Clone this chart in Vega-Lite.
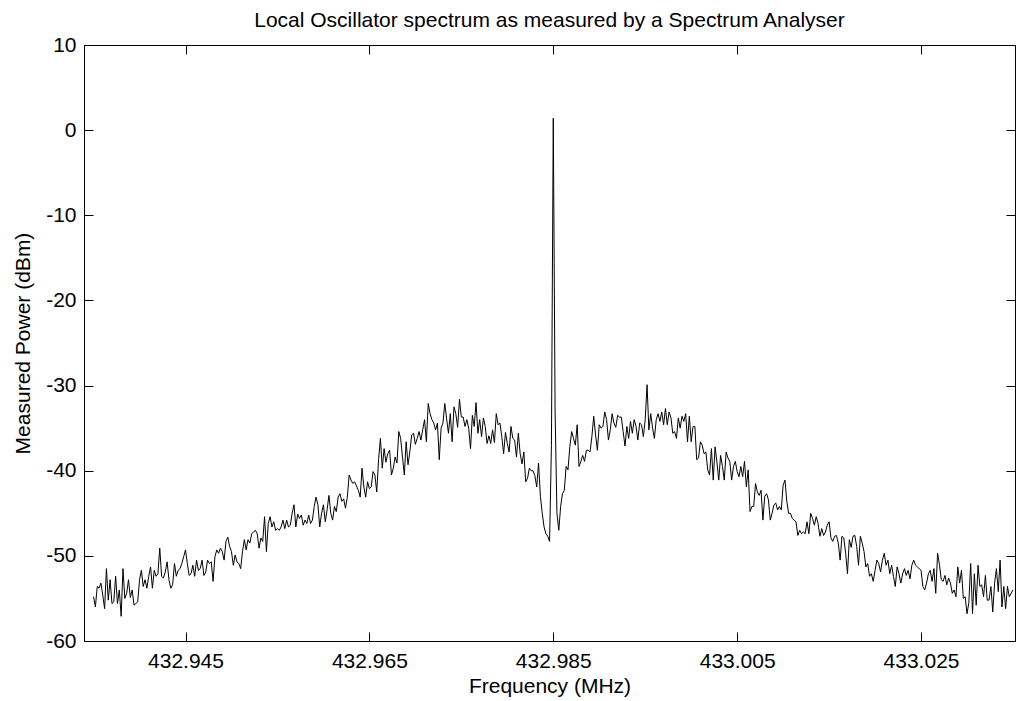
{
"$schema": "https://vega.github.io/schema/vega-lite/v6.json",
"width": 931, "height": 596,
"autosize": {"type": "none"},
"padding": {"left": 84, "top": 45, "right": 1, "bottom": 60},
"background": "white",
"title": {"text": "Local Oscillator spectrum as measured by a Spectrum Analyser", "font": "Liberation Sans", "fontSize": 21, "fontWeight": "normal", "color": "black", "anchor": "middle", "offset": 3},
"config": {"view": {"stroke": "black", "strokeWidth": 1}},
"data": {"values": [
{"f":432.935,"p":-54.8},{"f":432.9352,"p":-56.0},{"f":432.9354,"p":-53.6},{"f":432.9356,"p":-53.8},{"f":432.9358,"p":-53.2},{"f":432.936,"p":-54.6},{"f":432.9362,"p":-56.2},{"f":432.9364,"p":-51.5},{"f":432.9366,"p":-55.2},{"f":432.9368,"p":-52.8},
{"f":432.937,"p":-55.6},{"f":432.9372,"p":-55.4},{"f":432.9374,"p":-52.4},{"f":432.9376,"p":-55.6},{"f":432.9378,"p":-54.0},{"f":432.938,"p":-57.1},{"f":432.9382,"p":-51.5},{"f":432.9384,"p":-55.0},{"f":432.9386,"p":-54.4},{"f":432.9388,"p":-52.8},
{"f":432.939,"p":-54.9},{"f":432.9392,"p":-54.0},{"f":432.9394,"p":-55.8},{"f":432.9396,"p":-55.6},{"f":432.9398,"p":-55.4},{"f":432.94,"p":-52.8},{"f":432.9402,"p":-51.7},{"f":432.9404,"p":-53.6},{"f":432.9406,"p":-52.8},{"f":432.9408,"p":-53.8},
{"f":432.941,"p":-52.4},{"f":432.9412,"p":-51.3},{"f":432.9414,"p":-53.8},{"f":432.9416,"p":-51.7},{"f":432.9418,"p":-52.4},{"f":432.942,"p":-52.1},{"f":432.9422,"p":-49.1},{"f":432.9424,"p":-52.4},{"f":432.9426,"p":-52.6},{"f":432.9428,"p":-51.9},
{"f":432.943,"p":-50.7},{"f":432.9432,"p":-52.8},{"f":432.9434,"p":-53.8},{"f":432.9436,"p":-53.4},{"f":432.9438,"p":-50.9},{"f":432.944,"p":-52.4},{"f":432.9442,"p":-51.7},{"f":432.9444,"p":-51.5},{"f":432.9446,"p":-50.9},{"f":432.9448,"p":-50.1},
{"f":432.945,"p":-49.3},{"f":432.9452,"p":-50.9},{"f":432.9454,"p":-52.3},{"f":432.9456,"p":-52.1},{"f":432.9458,"p":-51.1},{"f":432.946,"p":-52.4},{"f":432.9462,"p":-50.5},{"f":432.9464,"p":-51.7},{"f":432.9466,"p":-51.5},{"f":432.9468,"p":-50.5},
{"f":432.947,"p":-52.3},{"f":432.9472,"p":-51.9},{"f":432.9474,"p":-50.5},{"f":432.9476,"p":-50.9},{"f":432.9478,"p":-50.7},{"f":432.948,"p":-53.0},{"f":432.9482,"p":-50.1},{"f":432.9484,"p":-49.3},{"f":432.9486,"p":-49.7},{"f":432.9488,"p":-49.1},
{"f":432.949,"p":-49.5},{"f":432.9492,"p":-50.5},{"f":432.9494,"p":-48.3},{"f":432.9496,"p":-47.8},{"f":432.9498,"p":-48.9},{"f":432.95,"p":-49.5},{"f":432.9502,"p":-51.1},{"f":432.9504,"p":-49.9},{"f":432.9506,"p":-50.7},{"f":432.9508,"p":-50.9},
{"f":432.951,"p":-51.5},{"f":432.9512,"p":-49.5},{"f":432.9514,"p":-48.1},{"f":432.9516,"p":-49.3},{"f":432.9518,"p":-48.1},{"f":432.952,"p":-48.5},{"f":432.9522,"p":-47.4},{"f":432.9524,"p":-47.2},{"f":432.9526,"p":-47.0},{"f":432.9528,"p":-47.4},
{"f":432.953,"p":-49.1},{"f":432.9532,"p":-47.9},{"f":432.9534,"p":-48.3},{"f":432.9536,"p":-45.4},{"f":432.9538,"p":-49.5},{"f":432.954,"p":-46.2},{"f":432.9542,"p":-45.4},{"f":432.9544,"p":-46.6},{"f":432.9546,"p":-46.0},{"f":432.9548,"p":-47.0},
{"f":432.955,"p":-46.8},{"f":432.9552,"p":-47.0},{"f":432.9554,"p":-46.6},{"f":432.9556,"p":-45.8},{"f":432.9558,"p":-46.8},{"f":432.956,"p":-45.8},{"f":432.9562,"p":-46.6},{"f":432.9564,"p":-46.4},{"f":432.9566,"p":-45.0},{"f":432.9568,"p":-44.0},
{"f":432.957,"p":-46.6},{"f":432.9572,"p":-45.1},{"f":432.9574,"p":-45.6},{"f":432.9576,"p":-45.2},{"f":432.9578,"p":-46.4},{"f":432.958,"p":-45.8},{"f":432.9582,"p":-46.2},{"f":432.9584,"p":-45.2},{"f":432.9586,"p":-46.2},{"f":432.9588,"p":-45.8},
{"f":432.959,"p":-44.2},{"f":432.9592,"p":-43.1},{"f":432.9594,"p":-44.0},{"f":432.9596,"p":-46.6},{"f":432.9598,"p":-45.0},{"f":432.96,"p":-44.0},{"f":432.9602,"p":-46.0},{"f":432.9604,"p":-44.6},{"f":432.9606,"p":-42.9},{"f":432.9608,"p":-45.0},
{"f":432.961,"p":-45.8},{"f":432.9612,"p":-44.2},{"f":432.9614,"p":-44.8},{"f":432.9616,"p":-43.1},{"f":432.9618,"p":-42.7},{"f":432.962,"p":-43.6},{"f":432.9622,"p":-43.3},{"f":432.9624,"p":-44.4},{"f":432.9626,"p":-43.1},{"f":432.9628,"p":-40.5},
{"f":432.963,"p":-41.1},{"f":432.9632,"p":-41.5},{"f":432.9634,"p":-41.3},{"f":432.9636,"p":-41.8},{"f":432.9638,"p":-42.3},{"f":432.964,"p":-43.1},{"f":432.9642,"p":-39.7},{"f":432.9644,"p":-41.9},{"f":432.9646,"p":-43.1},{"f":432.9648,"p":-41.3},
{"f":432.965,"p":-42.1},{"f":432.9652,"p":-41.9},{"f":432.9654,"p":-40.1},{"f":432.9656,"p":-40.5},{"f":432.9658,"p":-42.5},{"f":432.966,"p":-38.7},{"f":432.9662,"p":-36.2},{"f":432.9664,"p":-39.7},{"f":432.9666,"p":-37.4},{"f":432.9668,"p":-39.0},
{"f":432.967,"p":-38.0},{"f":432.9672,"p":-37.6},{"f":432.9674,"p":-40.5},{"f":432.9676,"p":-39.7},{"f":432.9678,"p":-38.4},{"f":432.968,"p":-39.1},{"f":432.9682,"p":-35.4},{"f":432.9684,"p":-36.2},{"f":432.9686,"p":-38.4},{"f":432.9688,"p":-40.5},
{"f":432.969,"p":-36.6},{"f":432.9692,"p":-39.3},{"f":432.9694,"p":-37.8},{"f":432.9696,"p":-35.8},{"f":432.9698,"p":-35.6},{"f":432.97,"p":-36.9},{"f":432.9702,"p":-36.2},{"f":432.9704,"p":-35.4},{"f":432.9706,"p":-36.4},{"f":432.9708,"p":-35.2},
{"f":432.971,"p":-34.0},{"f":432.9712,"p":-36.6},{"f":432.9714,"p":-32.1},{"f":432.9716,"p":-33.3},{"f":432.9718,"p":-34.0},{"f":432.972,"p":-34.4},{"f":432.9722,"p":-35.2},{"f":432.9724,"p":-34.4},{"f":432.9726,"p":-38.7},{"f":432.9728,"p":-35.0},
{"f":432.973,"p":-34.4},{"f":432.9732,"p":-32.1},{"f":432.9734,"p":-33.9},{"f":432.9736,"p":-35.6},{"f":432.9738,"p":-33.3},{"f":432.974,"p":-36.6},{"f":432.9742,"p":-32.5},{"f":432.9744,"p":-33.3},{"f":432.9746,"p":-34.9},{"f":432.9748,"p":-31.6},
{"f":432.975,"p":-33.7},{"f":432.9752,"p":-33.7},{"f":432.9754,"p":-34.8},{"f":432.9756,"p":-34.0},{"f":432.9758,"p":-35.0},{"f":432.976,"p":-37.4},{"f":432.9762,"p":-33.5},{"f":432.9764,"p":-34.8},{"f":432.9766,"p":-32.0},{"f":432.9768,"p":-35.6},
{"f":432.977,"p":-34.0},{"f":432.9772,"p":-36.0},{"f":432.9774,"p":-33.8},{"f":432.9776,"p":-34.8},{"f":432.9778,"p":-36.8},{"f":432.978,"p":-35.9},{"f":432.9782,"p":-36.8},{"f":432.9784,"p":-35.2},{"f":432.9786,"p":-36.7},{"f":432.9788,"p":-33.3},
{"f":432.979,"p":-34.6},{"f":432.9792,"p":-34.4},{"f":432.9794,"p":-36.0},{"f":432.9796,"p":-38.0},{"f":432.9798,"p":-35.5},{"f":432.98,"p":-36.8},{"f":432.9802,"p":-37.8},{"f":432.9804,"p":-34.8},{"f":432.9806,"p":-36.2},{"f":432.9808,"p":-36.4},
{"f":432.981,"p":-38.4},{"f":432.9812,"p":-35.6},{"f":432.9814,"p":-38.0},{"f":432.9816,"p":-39.2},{"f":432.9818,"p":-37.8},{"f":432.982,"p":-41.3},{"f":432.9822,"p":-40.9},{"f":432.9824,"p":-39.7},{"f":432.9826,"p":-40.0},{"f":432.9828,"p":-40.0},
{"f":432.983,"p":-40.6},{"f":432.9832,"p":-41.9},{"f":432.9834,"p":-39.1},{"f":432.9836,"p":-43.0},{"f":432.9838,"p":-45.0},{"f":432.984,"p":-46.6},{"f":432.9842,"p":-47.4},{"f":432.9844,"p":-47.7},{"f":432.9846,"p":-48.3},{"f":432.9848,"p":-37.0},
{"f":432.985,"p":1.4},{"f":432.9852,"p":-33.0},{"f":432.9854,"p":-45.0},{"f":432.9856,"p":-47.0},{"f":432.9858,"p":-44.2},{"f":432.986,"p":-42.7},{"f":432.9862,"p":-42.3},{"f":432.9864,"p":-39.5},{"f":432.9866,"p":-39.9},{"f":432.9868,"p":-37.2},
{"f":432.987,"p":-35.4},{"f":432.9872,"p":-36.2},{"f":432.9874,"p":-37.0},{"f":432.9876,"p":-34.6},{"f":432.9878,"p":-39.5},{"f":432.988,"p":-38.9},{"f":432.9882,"p":-38.2},{"f":432.9884,"p":-38.9},{"f":432.9886,"p":-37.6},{"f":432.9888,"p":-37.6},
{"f":432.989,"p":-37.8},{"f":432.9892,"p":-36.0},{"f":432.9894,"p":-33.6},{"f":432.9896,"p":-35.8},{"f":432.9898,"p":-37.6},{"f":432.99,"p":-34.6},{"f":432.9902,"p":-35.0},{"f":432.9904,"p":-34.8},{"f":432.9906,"p":-33.1},{"f":432.9908,"p":-34.0},
{"f":432.991,"p":-36.4},{"f":432.9912,"p":-35.2},{"f":432.9914,"p":-33.3},{"f":432.9916,"p":-34.4},{"f":432.9918,"p":-34.9},{"f":432.992,"p":-33.5},{"f":432.9922,"p":-33.7},{"f":432.9924,"p":-33.7},{"f":432.9926,"p":-35.4},{"f":432.9928,"p":-37.1},
{"f":432.993,"p":-34.8},{"f":432.9932,"p":-36.2},{"f":432.9934,"p":-34.2},{"f":432.9936,"p":-35.6},{"f":432.9938,"p":-34.0},{"f":432.994,"p":-34.8},{"f":432.9942,"p":-36.4},{"f":432.9944,"p":-34.4},{"f":432.9946,"p":-34.6},{"f":432.9948,"p":-36.0},
{"f":432.995,"p":-34.0},{"f":432.9952,"p":-29.9},{"f":432.9954,"p":-35.2},{"f":432.9956,"p":-33.3},{"f":432.9958,"p":-35.0},{"f":432.996,"p":-36.2},{"f":432.9962,"p":-34.0},{"f":432.9964,"p":-33.3},{"f":432.9966,"p":-34.2},{"f":432.9968,"p":-33.1},
{"f":432.997,"p":-34.6},{"f":432.9972,"p":-32.7},{"f":432.9974,"p":-34.6},{"f":432.9976,"p":-33.1},{"f":432.9978,"p":-33.8},{"f":432.998,"p":-35.6},{"f":432.9982,"p":-35.4},{"f":432.9984,"p":-36.2},{"f":432.9986,"p":-33.8},{"f":432.9988,"p":-35.0},
{"f":432.999,"p":-33.6},{"f":432.9992,"p":-34.2},{"f":432.9994,"p":-33.3},{"f":432.9996,"p":-36.6},{"f":432.9998,"p":-33.6},{"f":433.0,"p":-36.6},{"f":433.0002,"p":-34.8},{"f":433.0004,"p":-34.8},{"f":433.0006,"p":-38.7},{"f":433.0008,"p":-38.5},
{"f":433.001,"p":-36.6},{"f":433.0012,"p":-37.0},{"f":433.0014,"p":-38.0},{"f":433.0016,"p":-37.8},{"f":433.0018,"p":-39.9},{"f":433.002,"p":-40.5},{"f":433.0022,"p":-37.4},{"f":433.0024,"p":-41.1},{"f":433.0026,"p":-37.2},{"f":433.0028,"p":-39.0},
{"f":433.003,"p":-41.1},{"f":433.0032,"p":-38.2},{"f":433.0034,"p":-39.5},{"f":433.0036,"p":-41.1},{"f":433.0038,"p":-37.8},{"f":433.004,"p":-38.5},{"f":433.0042,"p":-38.9},{"f":433.0044,"p":-41.1},{"f":433.0046,"p":-39.5},{"f":433.0048,"p":-38.9},
{"f":433.005,"p":-40.1},{"f":433.0052,"p":-40.7},{"f":433.0054,"p":-39.5},{"f":433.0056,"p":-40.7},{"f":433.0058,"p":-38.9},{"f":433.006,"p":-41.9},{"f":433.0062,"p":-39.9},{"f":433.0064,"p":-44.8},{"f":433.0066,"p":-44.2},{"f":433.0068,"p":-44.2},
{"f":433.007,"p":-41.5},{"f":433.0072,"p":-42.5},{"f":433.0074,"p":-42.9},{"f":433.0076,"p":-42.3},{"f":433.0078,"p":-45.8},{"f":433.008,"p":-43.0},{"f":433.0082,"p":-42.7},{"f":433.0084,"p":-43.4},{"f":433.0086,"p":-45.8},{"f":433.0088,"p":-45.0},
{"f":433.009,"p":-44.0},{"f":433.0092,"p":-43.8},{"f":433.0094,"p":-44.6},{"f":433.0096,"p":-44.2},{"f":433.0098,"p":-44.6},{"f":433.01,"p":-41.7},{"f":433.0102,"p":-41.1},{"f":433.0104,"p":-43.6},{"f":433.0106,"p":-45.0},{"f":433.0108,"p":-45.0},
{"f":433.011,"p":-45.6},{"f":433.0112,"p":-45.8},{"f":433.0114,"p":-46.0},{"f":433.0116,"p":-47.6},{"f":433.0118,"p":-47.0},{"f":433.012,"p":-47.4},{"f":433.0122,"p":-47.2},{"f":433.0124,"p":-47.4},{"f":433.0126,"p":-46.0},{"f":433.0128,"p":-47.4},
{"f":433.013,"p":-45.0},{"f":433.0132,"p":-45.6},{"f":433.0134,"p":-46.4},{"f":433.0136,"p":-45.4},{"f":433.0138,"p":-46.2},{"f":433.014,"p":-47.7},{"f":433.0142,"p":-46.8},{"f":433.0144,"p":-47.6},{"f":433.0146,"p":-47.2},{"f":433.0148,"p":-46.4},
{"f":433.015,"p":-46.0},{"f":433.0152,"p":-47.9},{"f":433.0154,"p":-48.3},{"f":433.0156,"p":-47.7},{"f":433.0158,"p":-47.6},{"f":433.016,"p":-48.5},{"f":433.0162,"p":-50.5},{"f":433.0164,"p":-47.7},{"f":433.0166,"p":-47.9},{"f":433.0168,"p":-49.7},
{"f":433.017,"p":-52.1},{"f":433.0172,"p":-48.1},{"f":433.0174,"p":-49.0},{"f":433.0176,"p":-47.7},{"f":433.0178,"p":-47.6},{"f":433.018,"p":-48.9},{"f":433.0182,"p":-51.1},{"f":433.0184,"p":-47.7},{"f":433.0186,"p":-48.5},{"f":433.0188,"p":-49.5},
{"f":433.019,"p":-51.3},{"f":433.0192,"p":-50.9},{"f":433.0194,"p":-52.4},{"f":433.0196,"p":-52.1},{"f":433.0198,"p":-53.0},{"f":433.02,"p":-51.7},{"f":433.0202,"p":-50.5},{"f":433.0204,"p":-50.9},{"f":433.0206,"p":-51.9},{"f":433.0208,"p":-50.5},
{"f":433.021,"p":-49.7},{"f":433.0212,"p":-51.1},{"f":433.0214,"p":-50.5},{"f":433.0216,"p":-52.1},{"f":433.0218,"p":-51.1},{"f":433.022,"p":-52.4},{"f":433.0222,"p":-53.6},{"f":433.0224,"p":-51.3},{"f":433.0226,"p":-52.1},{"f":433.0228,"p":-53.2},
{"f":433.023,"p":-52.1},{"f":433.0232,"p":-51.5},{"f":433.0234,"p":-52.3},{"f":433.0236,"p":-51.7},{"f":433.0238,"p":-52.7},{"f":433.024,"p":-51.1},{"f":433.0242,"p":-50.5},{"f":433.0244,"p":-51.1},{"f":433.0246,"p":-51.3},{"f":433.0248,"p":-51.5},
{"f":433.025,"p":-51.7},{"f":433.0252,"p":-53.6},{"f":433.0254,"p":-54.0},{"f":433.0256,"p":-53.2},{"f":433.0258,"p":-52.1},{"f":433.026,"p":-51.7},{"f":433.0262,"p":-53.0},{"f":433.0264,"p":-51.5},{"f":433.0266,"p":-54.4},{"f":433.0268,"p":-49.7},
{"f":433.027,"p":-51.0},{"f":433.0272,"p":-52.8},{"f":433.0274,"p":-53.0},{"f":433.0276,"p":-52.3},{"f":433.0278,"p":-53.4},{"f":433.028,"p":-52.6},{"f":433.0282,"p":-53.2},{"f":433.0284,"p":-54.4},{"f":433.0286,"p":-54.0},{"f":433.0288,"p":-54.8},
{"f":433.029,"p":-51.3},{"f":433.0292,"p":-53.2},{"f":433.0294,"p":-51.7},{"f":433.0296,"p":-55.0},{"f":433.0298,"p":-54.8},{"f":433.03,"p":-56.8},{"f":433.0302,"p":-55.5},{"f":433.0304,"p":-50.9},{"f":433.0306,"p":-56.8},{"f":433.0308,"p":-52.1},
{"f":433.031,"p":-55.8},{"f":433.0312,"p":-51.1},{"f":433.0314,"p":-53.6},{"f":433.0316,"p":-53.4},{"f":433.0318,"p":-54.8},{"f":433.032,"p":-52.3},{"f":433.0322,"p":-55.2},{"f":433.0324,"p":-55.2},{"f":433.0326,"p":-53.6},{"f":433.0328,"p":-56.6},
{"f":433.033,"p":-53.2},{"f":433.0332,"p":-51.5},{"f":433.0334,"p":-54.2},{"f":433.0336,"p":-50.5},{"f":433.0338,"p":-56.0},{"f":433.034,"p":-53.6},{"f":433.0342,"p":-56.2},{"f":433.0344,"p":-53.6},{"f":433.0346,"p":-54.8},{"f":433.0348,"p":-54.4},
{"f":433.035,"p":-54.0}
]},
"layer": [
{"mark": {"type": "line", "color": "black", "strokeWidth": 1, "clip": true},
 "encoding": {
  "x": {"field": "f", "type": "quantitative", "scale": {"domain": [432.93396, 433.03522], "nice": false, "zero": false},
        "axis": {"orient": "bottom", "values": [432.945, 432.965, 432.985, 433.005, 433.025], "format": ".3f", "grid": false,
                 "tickSize": -9, "tickColor": "black", "domainColor": "black", "labelPadding": 18, "labelFlush": false, "labelOverlap": false,
                 "labelColor": "black", "labelFont": "Liberation Sans", "labelFontSize": 21,
                 "title": "Frequency (MHz)", "titleFont": "Liberation Sans", "titleFontSize": 21, "titleFontWeight": "normal", "titleColor": "black", "titlePadding": 4}},
  "y": {"field": "p", "type": "quantitative", "scale": {"domain": [-60, 10], "nice": false, "zero": false},
        "axis": {"orient": "left", "values": [10, 0, -10, -20, -30, -40, -50, -60], "labelExpr": "'' + datum.value", "grid": false,
                 "tickSize": -9, "tickColor": "black", "domainColor": "black", "labelPadding": 17, "labelFlush": false, "labelOverlap": false,
                 "labelColor": "black", "labelFont": "Liberation Sans", "labelFontSize": 21,
                 "title": "Measured Power (dBm)", "titleFont": "Liberation Sans", "titleFontSize": 21, "titleFontWeight": "normal", "titleColor": "black", "titlePadding": 12}}
 }},
{"mark": {"type": "line", "strokeOpacity": 0},
 "encoding": {
  "x": {"field": "f", "type": "quantitative", "scale": {"domain": [432.93396, 433.03522], "nice": false, "zero": false},
        "axis": {"orient": "top", "values": [432.945, 432.965, 432.985, 433.005, 433.025], "labels": false, "grid": false, "title": null,
                 "tickSize": -9, "tickColor": "black", "domainColor": "black"}},
  "y": {"field": "p", "type": "quantitative", "scale": {"domain": [-60, 10], "nice": false, "zero": false},
        "axis": {"orient": "right", "values": [10, 0, -10, -20, -30, -40, -50, -60], "labels": false, "grid": false, "title": null,
                 "tickSize": -9, "tickColor": "black", "domainColor": "black"}}
 }}
],
"resolve": {"axis": {"x": "independent", "y": "independent"}}
}
